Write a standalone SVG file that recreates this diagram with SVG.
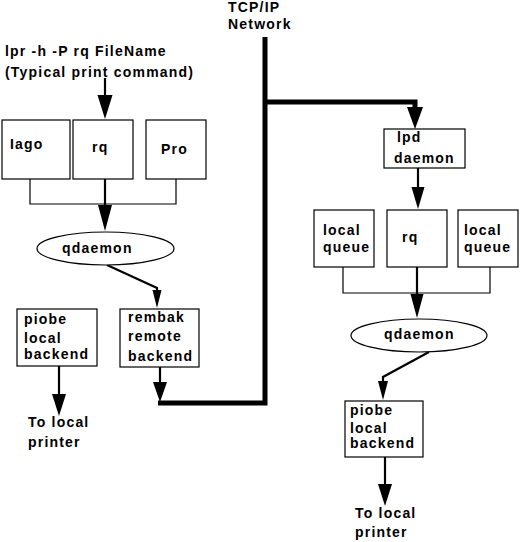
<svg xmlns="http://www.w3.org/2000/svg" width="520" height="542" viewBox="0 0 520 542">
<style>
text{font-family:"Liberation Sans",Arial,sans-serif;font-size:14px;font-weight:bold;letter-spacing:1.2px;fill:#000}
.box{fill:#fff;stroke:#000;stroke-width:1.2}
.ell{fill:#fff;stroke:#000;stroke-width:1.2}
.thin{fill:none;stroke:#000;stroke-width:1.2}
.conn{fill:none;stroke:#000;stroke-width:2.2}
.thick{fill:none;stroke:#000;stroke-width:5}
.head{fill:#000;stroke:none}
</style>
<rect width="520" height="542" fill="#fff"/>
<g id="connectors">
  <path class="thick" d="M265,37 V403 H158 M265,102 H415 V108"/>
  <polygon class="head" points="407,107 423,107 415,129"/>
  <line class="conn" x1="105" y1="78" x2="105" y2="96"/>
  <polygon class="head" points="97.5,95 112.5,95 105,119"/>
  <path class="thin" d="M30,179 V204 H176 V179"/>
  <line class="conn" x1="105" y1="179" x2="105" y2="206"/>
  <polygon class="head" points="98,205 112,205 105,231"/>
  <polyline class="conn" points="107,265 157,288 157,291"/>
  <polygon class="head" points="152.5,290 161.5,290 157,308"/>
  <line class="conn" x1="160" y1="367" x2="160" y2="383"/>
  <polygon class="head" points="153,382 167,382 160,402"/>
  <line class="conn" x1="59" y1="366" x2="59" y2="395"/>
  <polygon class="head" points="52,394 66,394 59,416"/>
  <line class="conn" x1="418" y1="168" x2="418" y2="188"/>
  <polygon class="head" points="411.5,187 424.5,187 418,209"/>
  <path class="thin" d="M343,267 V293 H490 V267"/>
  <line class="conn" x1="417" y1="267" x2="417" y2="295"/>
  <polygon class="head" points="410.5,294 423.5,294 417,318"/>
  <polyline class="conn" points="429,352 383,377 383,383"/>
  <polygon class="head" points="378,381 388,381 383,400"/>
  <line class="conn" x1="385" y1="457" x2="385" y2="485"/>
  <polygon class="head" points="378,484 392,484 385,506"/>
</g>
<g id="tcpip"><text x="228" y="12">TCP/IP</text><text x="228" y="29">Network</text></g>
<g id="lpr"><text x="5" y="56">lpr -h -P rq FileName</text><text x="5" y="77">(Typical print command)</text></g>
<g id="iago"><rect class="box" x="2" y="120" width="68" height="59"/><text x="10" y="149">Iago</text></g>
<g id="rq1"><rect class="box" x="73" y="120" width="60" height="59"/><text x="92" y="152">rq</text></g>
<g id="pro"><rect class="box" x="146" y="120" width="60" height="59"/><text x="161" y="154">Pro</text></g>
<g id="qdaemon1"><ellipse class="ell" cx="105.5" cy="248.5" rx="68.5" ry="16.5"/><text x="62" y="253">qdaemon</text></g>
<g id="piobe1"><rect class="box" x="17" y="309" width="80" height="57"/><text x="24" y="324">piobe</text><text x="24" y="343">local</text><text x="24" y="359">backend</text></g>
<g id="printer1"><text x="28" y="427">To local</text><text x="28" y="447">printer</text></g>
<g id="rembak"><rect class="box" x="120" y="309" width="79" height="58"/><text x="128" y="322">rembak</text><text x="128" y="341">remote</text><text x="128" y="361">backend</text></g>
<g id="lpd"><rect class="box" x="384" y="129" width="81" height="39"/><text x="397" y="142">lpd</text><text x="394" y="163">daemon</text></g>
<g id="lq1"><rect class="box" x="314" y="210" width="60" height="57"/><text x="323" y="235">local</text><text x="323" y="252">queue</text></g>
<g id="rq2"><rect class="box" x="387" y="210" width="60" height="57"/><text x="402" y="242">rq</text></g>
<g id="lq2"><rect class="box" x="458" y="210" width="60" height="57"/><text x="464" y="235">local</text><text x="464" y="252">queue</text></g>
<g id="qdaemon2"><ellipse class="ell" cx="419" cy="335.5" rx="68" ry="16.5"/><text x="384" y="339">qdaemon</text></g>
<g id="piobe2"><rect class="box" x="345" y="401" width="78" height="56"/><text x="350" y="415">piobe</text><text x="350" y="433">local</text><text x="350" y="448">backend</text></g>
<g id="printer2"><text x="355" y="518">To local</text><text x="355" y="537">printer</text></g>
</svg>
